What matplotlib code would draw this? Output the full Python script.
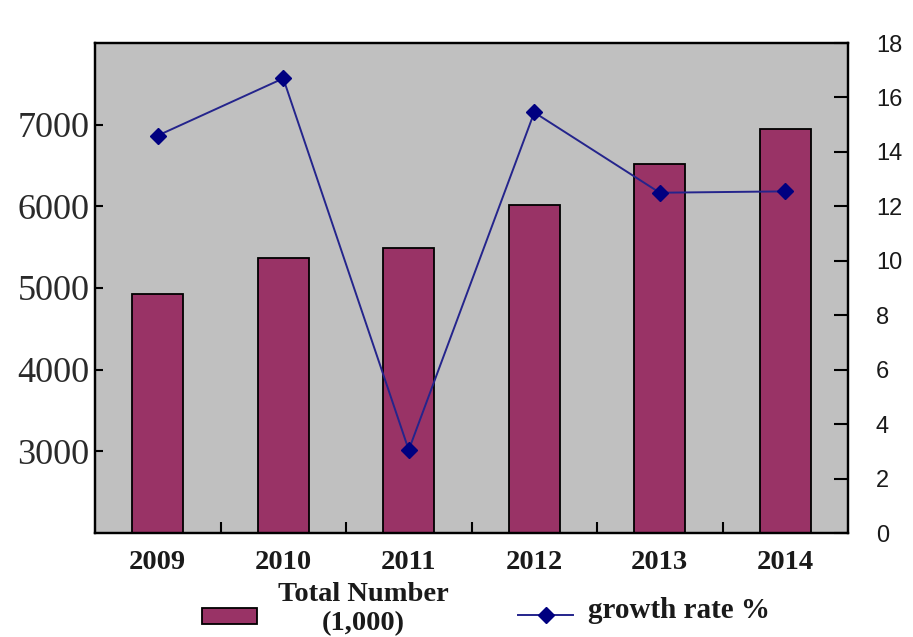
import matplotlib
matplotlib.use("Agg")
import matplotlib.pyplot as plt
from matplotlib import font_manager
from matplotlib.patches import Rectangle
from matplotlib.legend_handler import HandlerPatch, HandlerLine2D

years = ["2009", "2010", "2011", "2012", "2013", "2014"]
total_number = [4930, 5370, 5490, 6020, 6520, 6950]
growth_rate = [14.6, 16.7, 3.05, 15.45, 12.5, 12.55]
left_ticks = [3000, 4000, 5000, 6000, 7000]
right_ticks = [0, 2, 4, 6, 8, 10, 12, 14, 16, 18]

names = {f.name for f in font_manager.fontManager.ttflist}
serif = "Liberation Serif" if "Liberation Serif" in names else "DejaVu Serif"
sans = "Liberation Sans Narrow" if "Liberation Sans Narrow" in names else (
    "Liberation Sans" if "Liberation Sans" in names else "DejaVu Sans")
narrow = sans == "Liberation Sans Narrow"

fig = plt.figure(figsize=(9.13, 6.37), dpi=100)
ax = fig.add_axes([95 / 913, 1 - 533 / 637, (848 - 95) / 913, (533 - 43) / 637])
ax.set_facecolor("#C0C0C0")

x = list(range(len(years)))
bars = ax.bar(x, total_number, width=0.41, color="#993366", edgecolor="black",
              linewidth=1.3, label="Total Number\n(1,000)", zorder=2)
ax.set_xlim(-0.5, len(years) - 0.5)
ax.set_ylim(2000, 8000)
ax.set_yticks(left_ticks)
ax.set_yticklabels([str(v) for v in left_ticks], fontfamily=serif, fontsize=26,
                   color="#2a2a2a")
ax.tick_params(axis="y", direction="in", length=6, width=1.5, pad=4)
ax.set_xticks(x)
ax.set_xticklabels(years, fontfamily=serif, fontsize=20.5, fontweight="bold",
                   color="#1a1a1a")
ax.set_xticks([i + 0.5 for i in x[:-1]], minor=True)
ax.tick_params(axis="x", which="major", length=0, pad=12)
ax.tick_params(axis="x", which="minor", direction="in", length=8, width=1.5)
for s in ax.spines.values():
    s.set_linewidth(1.6)
    s.set_color("black")

ax2 = ax.twinx()
line, = ax2.plot(x, growth_rate, color="#24248c", linewidth=1.4, marker="D",
                 markersize=8.5, markerfacecolor="#000080",
                 markeredgecolor="#000080", label="growth rate %", zorder=3)
ax2.set_ylim(0, 18)
ax2.set_yticks(right_ticks)
ax2.set_yticklabels([str(v) for v in right_ticks], fontfamily=sans,
                    fontsize=21 if narrow else 17, color="#1a1a1a")
ax2.tick_params(axis="y", direction="in", length=10, width=1.5, pad=20)
for s in ax2.spines.values():
    s.set_linewidth(1.6)

DROP = 5.5  # points: handles sit a little lower than label centre


def low_rect(legend, orig_handle, xdescent, ydescent, width, height, fontsize):
    return Rectangle((-xdescent, -ydescent - DROP), width, height)


class LowLine(HandlerLine2D):
    def create_artists(self, legend, orig_handle, xdescent, ydescent, width,
                       height, fontsize, trans):
        arts = super().create_artists(legend, orig_handle, xdescent, ydescent,
                                      width, height, fontsize, trans)
        for a in arts:
            a.set_ydata([y - DROP for y in a.get_ydata()])
        return arts


bar_handle = bars.patches[0]
leg1 = fig.legend(handles=[bar_handle], labels=["Total Number\n(1,000)"],
                  loc="center left", bbox_to_anchor=(202 / 913, 1 - 609 / 637),
                  frameon=False, borderpad=0, borderaxespad=0,
                  handlelength=1.93, handleheight=0.45, handletextpad=0.75,
                  handler_map={bar_handle: HandlerPatch(patch_func=low_rect)},
                  prop={"family": serif, "size": 20.5, "weight": "bold"})
for t in leg1.get_texts():
    t.set_multialignment("center")
    t.set_color("#1a1a1a")

leg2 = fig.legend(handles=[line], labels=["growth rate %"],
                  loc="center left", bbox_to_anchor=(518 / 913, 1 - 610 / 637),
                  frameon=False, borderpad=0, borderaxespad=0,
                  handlelength=1.9, handletextpad=0.5,
                  handler_map={line: LowLine()},
                  prop={"family": serif, "size": 21, "weight": "bold"})
for t in leg2.get_texts():
    t.set_color("#1a1a1a")

fig.savefig("out.png", dpi=100, facecolor="white")
